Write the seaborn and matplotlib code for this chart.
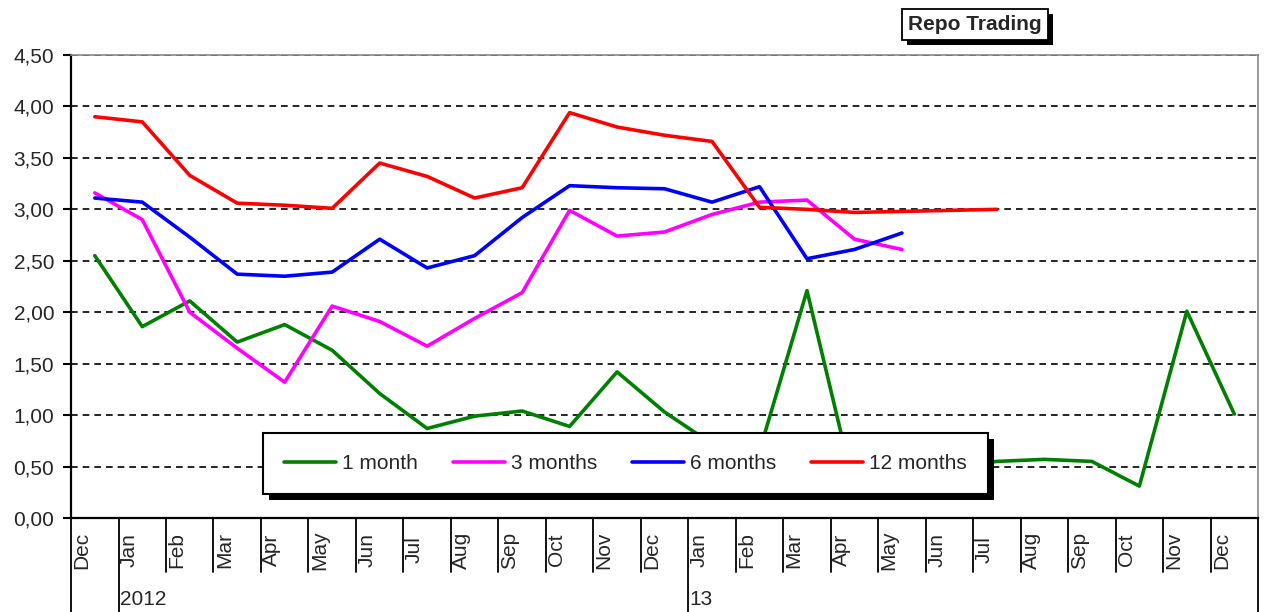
import matplotlib.pyplot as plt
import matplotlib.lines as mlines
from matplotlib.patches import Rectangle
from matplotlib.transforms import IdentityTransform
import numpy as np
import pandas as pd
import seaborn as sns

# monthly repo rates, Dec 2011 .. Dec 2013
months = ['Dec', 'Jan', 'Feb', 'Mar', 'Apr', 'May', 'Jun', 'Jul', 'Aug', 'Sep', 'Oct', 'Nov', 'Dec',
          'Jan', 'Feb', 'Mar', 'Apr', 'May', 'Jun', 'Jul', 'Aug', 'Sep', 'Oct', 'Nov', 'Dec']
year_labels = ['2012', '13']
year_starts = [1, 13]

terms = ['1 month', '3 months', '6 months', '12 months']
one_month = [2.55, 1.86, 2.11, 1.71, 1.88, 1.63, 1.21, 0.87, 0.99, 1.04, 0.89, 1.42, 1.03,
             0.72, 0.65, 2.21, 0.28, 0.45, 0.50, 0.55, 0.57, 0.55, 0.31, 2.01, 1.01]
three_months = [3.16, 2.90, 2.00, 1.65, 1.32, 2.06, 1.91, 1.67, 1.94, 2.19, 2.99, 2.74, 2.78,
                2.95, 3.07, 3.09, 2.71, 2.61] + [np.nan] * 7
six_months = [3.11, 3.07, 2.73, 2.37, 2.35, 2.39, 2.71, 2.43, 2.55, 2.92, 3.23, 3.21, 3.20,
              3.07, 3.22, 2.52, 2.61, 2.77] + [np.nan] * 7
twelve_months = [3.90, 3.85, 3.33, 3.06, 3.04, 3.01, 3.45, 3.32, 3.11, 3.21, 3.94, 3.80, 3.72,
                 3.66, 3.02, 3.00, 2.97, 2.98, 2.99, 3.00] + [np.nan] * 5

colors = ['#008000', '#ff00ff', '#0000ff', '#ff0000']

frames = []
for name, vals in zip(terms, [one_month, three_months, six_months, twelve_months]):
    frames.append(pd.DataFrame({'pos': range(len(months)), 'rate': vals, 'term': name}))
df = pd.concat(frames).dropna()

sns.set_style('white')
plt.rcParams['font.family'] = ['Liberation Sans', 'DejaVu Sans']

fig = plt.figure(figsize=(12.64, 6.12), dpi=100)
ax = fig.add_axes([0.0562, 0.1536, 0.9391, 0.7565])

sns.lineplot(data=df, x='pos', y='rate', hue='term', hue_order=terms, palette=colors,
             linewidth=2.6, estimator=None, sort=False, legend=False, ax=ax)

ax.set_xlim(-0.5, len(months) - 0.5)
ax.set_ylim(0, 4.5)
ax.set_xlabel('')
ax.set_ylabel('')

# y axis
ax.set_yticks(np.arange(0, 4.51, 0.5))
ax.set_yticklabels([f'{v:.2f}'.replace('.', ',') for v in np.arange(0, 4.51, 0.5)], fontsize=15)
ax.tick_params(axis='y', length=6, width=1.5, color='black', pad=6, left=True)
ax.yaxis.grid(True, color='black', linestyle=(0, (4, 3)), linewidth=1.2)
ax.xaxis.grid(False)

for side in ['left', 'bottom']:
    ax.spines[side].set_color('black')
    ax.spines[side].set_linewidth(1.6)
for side in ['top', 'right']:
    ax.spines[side].set_color('#888888')
    ax.spines[side].set_linewidth(1.2)

# x axis: month cells with separators, labels drawn by hand
ax.set_xticks([])
xt = ax.get_xaxis_transform()
bounds = np.arange(-0.5, len(months), 1.0)
long_bounds = [-0.5] + [s - 0.5 for s in year_starts] + [len(months) - 0.5]
for b in bounds:
    depth = -0.205 if b in long_bounds else -0.117
    ax.plot([b, b], [0, depth], transform=xt, color='black', lw=1.3, clip_on=False)
for i, m in enumerate(months):
    ax.text(i - 0.27, -0.069, m, transform=xt, rotation=90, ha='center', va='center', fontsize=15)
for s, lab in zip(year_starts, year_labels):
    ax.text(s - 0.47, -0.175, lab, transform=xt, ha='left', va='center', fontsize=15)

# legend
handles = [mlines.Line2D([], [], color=c, lw=2.6) for c in colors]
leg = ax.legend(handles, terms, ncol=4, loc='center', bbox_to_anchor=(0.467, 0.118),
                fontsize=15, frameon=True, fancybox=False, handlelength=2.5,
                handletextpad=0.3, columnspacing=1.65, borderpad=1.0, framealpha=1)
leg.get_frame().set_edgecolor('black')
leg.get_frame().set_linewidth(1.5)

# title box
title = fig.text(0.7714, 0.96, 'Repo Trading', fontsize=15, fontweight='bold',
                 ha='center', va='center', zorder=5,
                 bbox=dict(boxstyle='square,pad=0.3', facecolor='white', edgecolor='black', lw=1.3))

# drop shadows behind the legend and title boxes
fig.canvas.draw()
for box, off, z in [(leg.get_frame().get_window_extent(), 6, 4.9),
                    (title.get_bbox_patch().get_window_extent(), 5, 4.9)]:
    shadow = Rectangle((box.x0 + off, box.y0 - off), box.width, box.height,
                       transform=IdentityTransform(), facecolor='black', edgecolor='none', zorder=z)
    if off == 6:
        leg.set_zorder(6)
        ax.add_artist(shadow)
        shadow.set_transform(IdentityTransform())
        shadow.set_clip_on(False)
    else:
        fig.add_artist(shadow)
        shadow.set_transform(IdentityTransform())

plt.savefig('out.png', dpi=100)
plt.close()
